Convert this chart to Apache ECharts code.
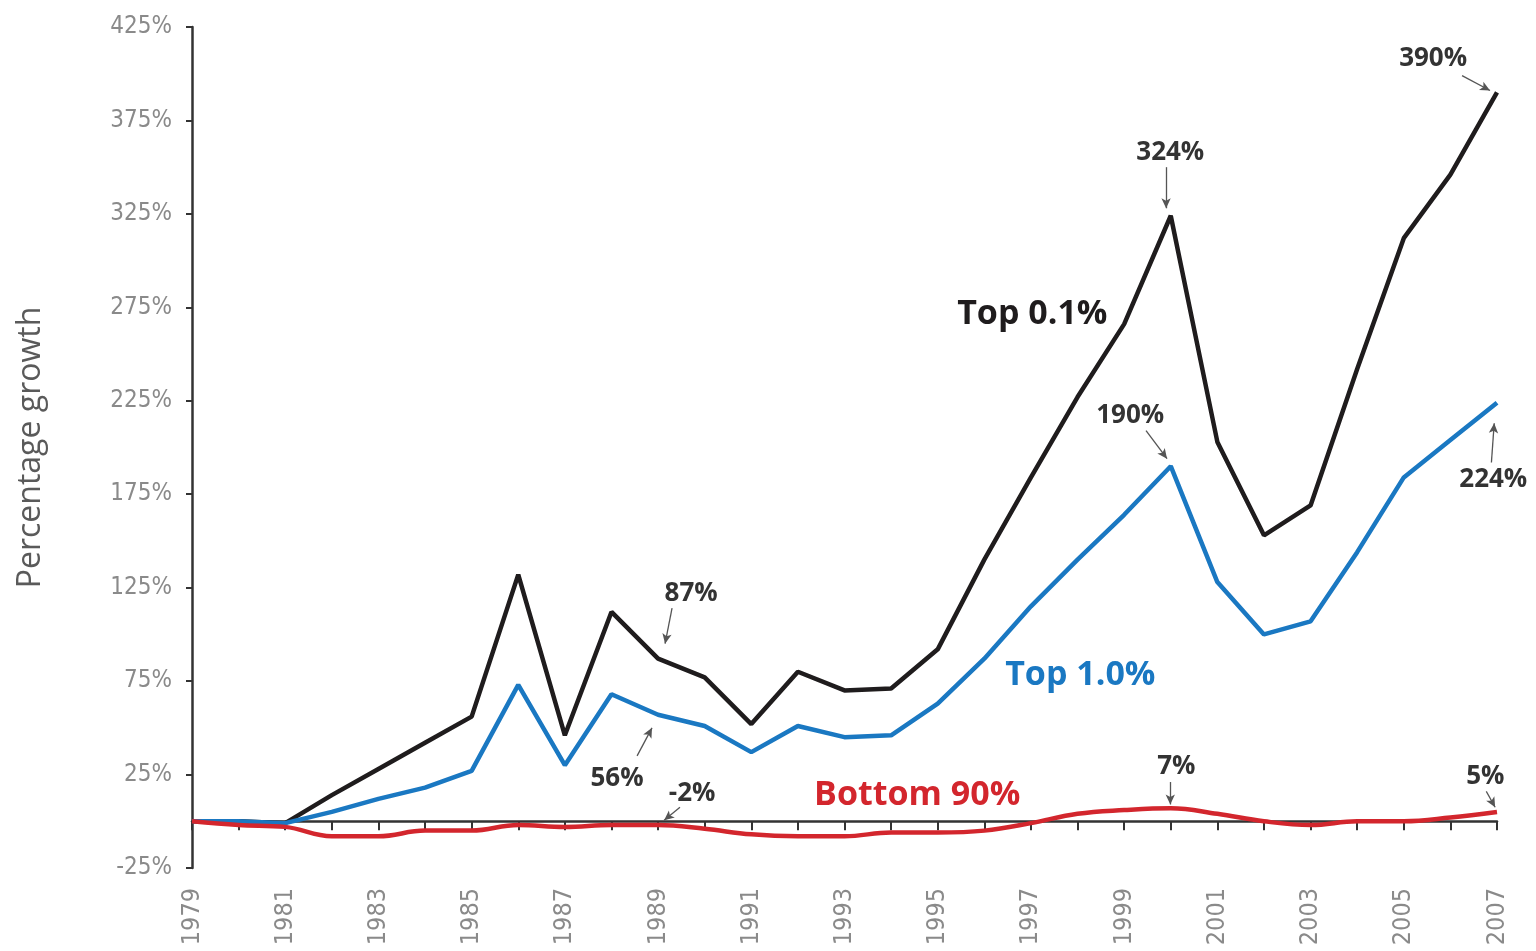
<!DOCTYPE html>
<html>
<head>
<meta charset="utf-8">
<script src="https://cdn.jsdelivr.net/npm/echarts@6/dist/echarts.min.js"></script>
<style>
  html, body { margin: 0; padding: 0; background: #fff; }
  #chart { width: 1536px; height: 951px; }
</style>
</head>
<body>
<div id="chart"></div>
<script>
// years 1979 .. 2007
const years = [1979, 1980, 1981, 1982, 1983, 1984, 1985, 1986, 1987, 1988, 1989, 1990, 1991, 1992,
  1993, 1994, 1995, 1996, 1997, 1998, 1999, 2000, 2001, 2002, 2003, 2004, 2005, 2006, 2007]

const top01 = [0, 0, -1, 14, 28, 42, 56, 132, 46, 112, 87, 77, 52, 80, 70, 71, 92, 140, 184, 227,
  266, 324, 203, 153, 169, 242, 312, 346, 390]
const top1 = [0, 0, -1, 5, 12, 18, 27, 73, 30, 68, 57, 51, 37, 51, 45, 46, 63, 87, 115, 140,
  164, 190, 128, 100, 107, 144, 184, 204, 224]
const bottom90 = [0, -2, -3, -8, -8, -5, -5, -2, -3, -2, -2, -4, -7, -8, -8, -6, -6, -5, -1, 4,
  6, 7, 4, 0, -2, 0, 0, 2, 5]

const yTickLabels = ['-25%', '25%', '75%', '125%', '175%', '225%', '275%', '325%', '375%', '425%']

// value callouts: text spot, arrow start, arrow end (x = year index, y = percent)
const notesBlack = [
  { text: '390%', at: [26.63, 408], from: [27.25, 399], to: [27.85, 391] },
  { text: '324%', at: [20.99, 358], from: [20.9, 350], to: [20.9, 328] },
  { text: '87%', at: [10.71, 122], from: [10.3, 114], to: [10.15, 95] }
]
const notesBlue = [
  { text: '190%', at: [20.13, 217], from: [20.47, 209], to: [20.92, 194] },
  { text: '224%', at: [27.92, 183], from: [27.88, 192], to: [27.94, 213] },
  { text: '56%', at: [9.12, 23], from: [9.55, 35], to: [9.87, 50] }
]
const notesRed = [
  { text: '-2%', at: [10.73, 15], from: [10.47, 7.5], to: [10.13, 0.5] },
  { text: '7%', at: [21.12, 29], from: [20.99, 21], to: [20.99, 9] },
  { text: '5%', at: [27.75, 24], from: [27.77, 16], to: [27.96, 7.5] }
]

const seriesNames = ['Top 0.1%', 'Top 1.0%', 'Bottom 90%']
const seriesNamePos = [[18.03, 271], [19.06, 78], [15.56, 14]]
const colors = ['#1f1c1d', '#1a78c2', '#d3262d']

const labelFont = '"Liberation Sans Narrow", "DejaVu Sans Condensed", sans-serif'
const noteFont = '"Open Sans", "Noto Sans", sans-serif'

function pairs(arr) {
  return arr.map((v, i) => [i, v])
}

function buildMarks(notes, idx) {
  const points = notes.map(n => ({
    coord: n.at,
    label: { formatter: n.text }
  }))
  points.push({
    coord: seriesNamePos[idx],
    label: {
      formatter: seriesNames[idx],
      fontSize: 34,
      color: colors[idx]
    }
  })
  return {
    markPoint: {
      silent: true,
      symbol: 'circle',
      symbolSize: 0,
      animation: false,
      label: {
        show: true,
        position: 'inside',
        fontFamily: noteFont,
        fontWeight: 'bold',
        fontSize: 26,
        color: '#333'
      },
      data: points
    },
    markLine: {
      silent: true,
      animation: false,
      symbol: ['none', 'arrow'],
      symbolSize: [7, 10],
      label: { show: false },
      lineStyle: { color: '#555', width: 1.3, type: 'solid' },
      data: notes.map(n => [{ coord: n.from }, { coord: n.to }])
    }
  }
}

const chart = echarts.init(document.getElementById('chart'))

const lineSeries = [top01, top1, bottom90].map((arr, i) => Object.assign({
  name: seriesNames[i],
  type: 'line',
  xAxisIndex: 0,
  yAxisIndex: 0,
  data: pairs(arr),
  symbol: 'none',
  smooth: i === 2 ? 0.4 : false,
  z: 3 + i,
  lineStyle: { color: colors[i], width: 4.5 }
}, buildMarks([notesBlack, notesBlue, notesRed][i], i)))

chart.setOption({
  animation: false,
  grid: { left: 192, right: 39, top: 27, bottom: 83, outerBoundsMode: 'none' },
  xAxis: [
    {
      type: 'value',
      min: 0,
      max: 28,
      interval: 2,
      position: 'bottom',
      axisLine: { show: false, onZero: false },
      axisTick: { show: false },
      splitLine: { show: false },
      axisLabel: {
        rotate: 90,
        margin: 20,
        fontFamily: labelFont,
        fontSize: 25,
        color: '#8a8a8a',
        formatter: v => String(years[v])
      }
    },
    {
      // zero line with a tick per year
      type: 'value',
      min: 0,
      max: 28,
      interval: 1,
      position: 'bottom',
      axisLine: {
        show: true,
        onZero: true,
        onZeroAxisIndex: 0,
        lineStyle: { color: '#333', width: 2.5 }
      },
      axisTick: { show: true, inside: false, length: 9, lineStyle: { color: '#333', width: 2 } },
      axisLabel: { show: true, color: 'rgba(0,0,0,0)', fontSize: 8, margin: 2 },
      splitLine: { show: false }
    }
  ],
  yAxis: [
    {
      type: 'value',
      min: -25,
      max: 425,
      interval: 25,
      axisLine: { show: true, lineStyle: { color: '#333', width: 2.5 } },
      axisTick: { show: false },
      axisLabel: { show: false },
      splitLine: { show: false }
    },
    {
      // label axis: same span, ticks line up with -25%, 25%, ... 425%
      type: 'value',
      position: 'left',
      min: 0,
      max: 450,
      interval: 50,
      axisLine: { show: false },
      axisTick: { show: true, length: 6, lineStyle: { color: '#333', width: 2 } },
      splitLine: { show: false },
      axisLabel: {
        margin: 20,
        fontFamily: labelFont,
        fontSize: 24,
        color: '#8a8a8a',
        formatter: v => yTickLabels[v / 50]
      },
      name: 'Percentage growth',
      nameLocation: 'middle',
      nameGap: 145,
      nameTextStyle: {
        fontFamily: noteFont,
        fontSize: 32,
        color: '#5a5a5a'
      }
    }
  ],
  series: lineSeries
})
</script>
</body>
</html>
